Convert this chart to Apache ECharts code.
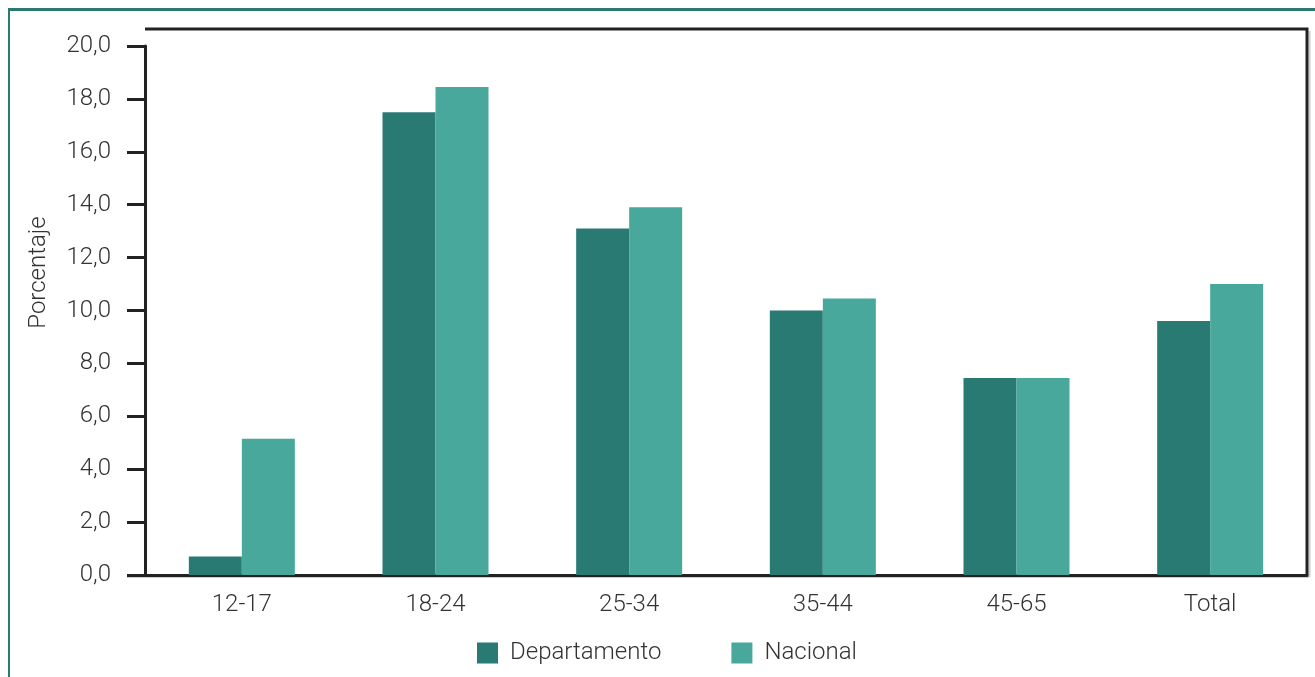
<!DOCTYPE html>
<html><head><meta charset="utf-8">
<script src="https://cdn.jsdelivr.net/npm/echarts@6/dist/echarts.min.js"></script>
<style>
html,body{margin:0;padding:0;background:#fff;overflow:hidden}
#frame{position:absolute;left:8px;top:8px;width:1320px;height:700px;border-left:2px solid #2a7a72;border-top:3px solid #2a7a72;box-sizing:border-box}
#c{position:absolute;left:0;top:0;width:1315px;height:677px}
</style></head>
<body>
<div id="frame"></div>
<div id="c"></div>
<script>
const categories = ['12-17','18-24','25-34','35-44','45-65','Total'];
const departamento = [0.7, 17.5, 13.1, 10.0, 7.45, 9.6];
const nacional = [5.15, 18.45, 13.9, 10.45, 7.45, 11.0];
const seriesNames = ['Departamento','Nacional'];
const colors = ['#297a73','#47a89b'];

const chart = echarts.init(document.getElementById('c'));
const font = 'Roboto';
chart.setOption({
  animation:false,
  color: colors,
  grid:{left:145, right:8, top:46, bottom:102, containLabel:false},
  legend:{
    top:636, left:472, itemWidth:21, itemHeight:21, itemGap:70,
    textStyle:{fontFamily:font, fontWeight:300, fontSize:24, color:'#333', padding:[0,0,0,7]},
    icon:'rect', data: seriesNames
  },
  xAxis:{
    type:'category', data:categories,
    axisLine:{lineStyle:{color:'#222', width:3}},
    axisTick:{show:false},
    axisLabel:{fontFamily:font, fontWeight:300, fontSize:24, color:'#333', margin:18}
  },
  yAxis:{
    type:'value', min:0, max:20, interval:2,
    name:'Porcentaje', nameLocation:'middle', nameGap:94, nameRotate:90,
    nameTextStyle:{fontFamily:font, fontWeight:300, fontSize:24, color:'#333', padding:[0,0,0,76]},
    axisLine:{show:true, lineStyle:{color:'#222', width:3}},
    axisTick:{show:true, length:18, lineStyle:{color:'#222', width:3}},
    splitLine:{show:false},
    axisLabel:{fontFamily:font, fontWeight:300, fontSize:24, color:'#333', margin:34,
      formatter:v=>v.toFixed(1).replace('.',',')}
  },
  graphic:[
    {type:'polyline', shape:{points:[[145,29],[1307,29],[1307,575]]}, style:{stroke:'#222', lineWidth:3, fill:null}, z:10},
    {type:'line', shape:{x1:1309.5,y1:31,x2:1309.5,y2:577}, style:{stroke:'#ccc', lineWidth:2}},
    {type:'line', shape:{x1:127,y1:577,x2:1309,y2:577}, style:{stroke:'#bbb', lineWidth:1.5}}
  ],
  series:[
    {name:seriesNames[0], type:'bar', data:departamento, barWidth:53, barGap:'0%'},
    {name:seriesNames[1], type:'bar', data:nacional, barWidth:53, barGap:'0%'}
  ]
});
</script>
</body></html>
